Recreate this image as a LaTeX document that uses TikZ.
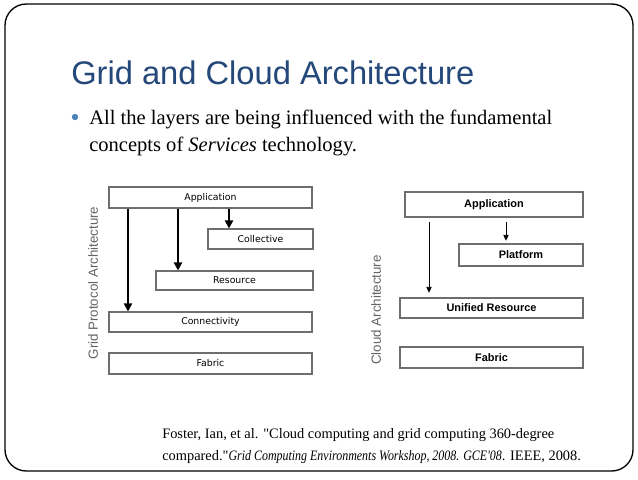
\documentclass[tikz,border=0pt]{standalone}
\usepackage{fontspec}
\setmainfont{Liberation Serif}
\newfontfamily\refserif{Liberation Serif}
\newfontfamily\titlefont{Liberation Sans}
\newfontfamily\boxfont{DejaVu Sans}
\newfontfamily\arialfont{Liberation Sans}
\usetikzlibrary{arrows.meta}
\definecolor{titleblue}{RGB}{36,72,122}
\definecolor{dotblue}{RGB}{79,129,189}
\definecolor{boxgray}{RGB}{110,110,110}
\definecolor{labgray}{RGB}{100,100,100}
\tikzset{
  px/.style={x=0.75pt,y=-0.75pt},
  lbox/.style={draw=boxgray,line width=0.8pt,inner sep=0pt,rectangle,font=\boxfont\fontsize{7}{8}\selectfont},
  rbox/.style={draw=boxgray,line width=0.8pt,inner sep=0pt,rectangle,font=\arialfont\bfseries\fontsize{8.2}{9}\selectfont},
  thickarr/.style={line width=1.6pt,-{Triangle[length=6pt,width=6pt]}},
  thinarr/.style={line width=0.7pt,-{Triangle[length=4.5pt,width=4pt]}},
  vlabel/.style={rotate=90,text=labgray,font=\arialfont\fontsize{10}{11}\selectfont,inner sep=0pt},
  reftext/.style={anchor=base west,inner sep=0pt,font=\refserif\fontsize{10.8}{12}\selectfont},
}
\begin{document}
\begin{tikzpicture}[px]
\useasboundingbox (0,0) rectangle (638,479);
\fill[white] (0,0) rectangle (638,479);
% slide frame
\draw[black,line width=1pt,rounded corners=16pt] (5,4) rectangle (633,471);
% title
\node[anchor=base west,inner sep=0pt,text=titleblue,font=\titlefont\fontsize{24.5}{27}\selectfont] (title) at (71,84) {Grid and Cloud Architecture};
% bullet
\fill[dotblue] (75,117) circle (3.2);
\node[anchor=base west,inner sep=0pt,font=\fontsize{15.4}{18}\selectfont] (b1) at (89,124) {All the layers are being influenced with the fundamental};
\node[anchor=base west,inner sep=0pt,font=\fontsize{15.4}{18}\selectfont] (b2) at (89,151) {concepts of \textit{Services} technology.};
% left diagram
\node[lbox,minimum width=152.25pt,minimum height=15.75pt] (lapp) at (210.5,197.5) {Application};
\node[lbox,minimum width=78.75pt,minimum height=15pt] (lcol) at (260.5,239) {Collective};
\node[lbox,minimum width=117.75pt,minimum height=14.25pt] (lres) at (234.5,280.5) {Resource};
\node[lbox,minimum width=152.25pt,minimum height=15pt] (lcon) at (210.5,322) {Connectivity};
\node[lbox,minimum width=152.25pt,minimum height=15.75pt] (lfab) at (210.5,363.5) {Fabric};
\draw[thickarr] (128,0 |- lapp.south) -- (128,0 |- lcon.north);
\draw[thickarr] (178,0 |- lapp.south) -- (178,0 |- lres.north);
\draw[thickarr] (229,0 |- lapp.south) -- (229,0 |- lcol.north);
\node[vlabel] (lvl) at (93,283) {Grid Protocol Architecture};
% right diagram
\node[rbox,minimum width=133.5pt,minimum height=18.75pt] (rapp) at (494,204.5) {Application};
\node[rbox,minimum width=93pt,minimum height=16.5pt] (rplat) at (521,255) {Platform};
\node[rbox,minimum width=137.25pt,minimum height=15pt] (runi) at (491.5,308) {Unified Resource};
\node[rbox,minimum width=137.25pt,minimum height=15.75pt] (rfab) at (491.5,357.5) {Fabric};
\draw[thinarr,shorten <=3pt,shorten >=3.5pt] (429,0 |- rapp.south) -- (429,0 |- runi.north);
\draw[thinarr,shorten <=3pt,shorten >=2pt] (506,0 |- rapp.south) -- (506,0 |- rplat.north);
\node[vlabel] (rvl) at (376,310) {Cloud Architecture};
% reference
\node[reftext] (r1) at (162,438) {Foster, Ian, et al. "Cloud computing and grid computing 360-degree};
\node[reftext] (r2) at (162,460) {compared."\scalebox{0.83}[1]{\itshape Grid Computing Environments Workshop, 2008. GCE'08}. IEEE, 2008.};
\end{tikzpicture}
\end{document}
